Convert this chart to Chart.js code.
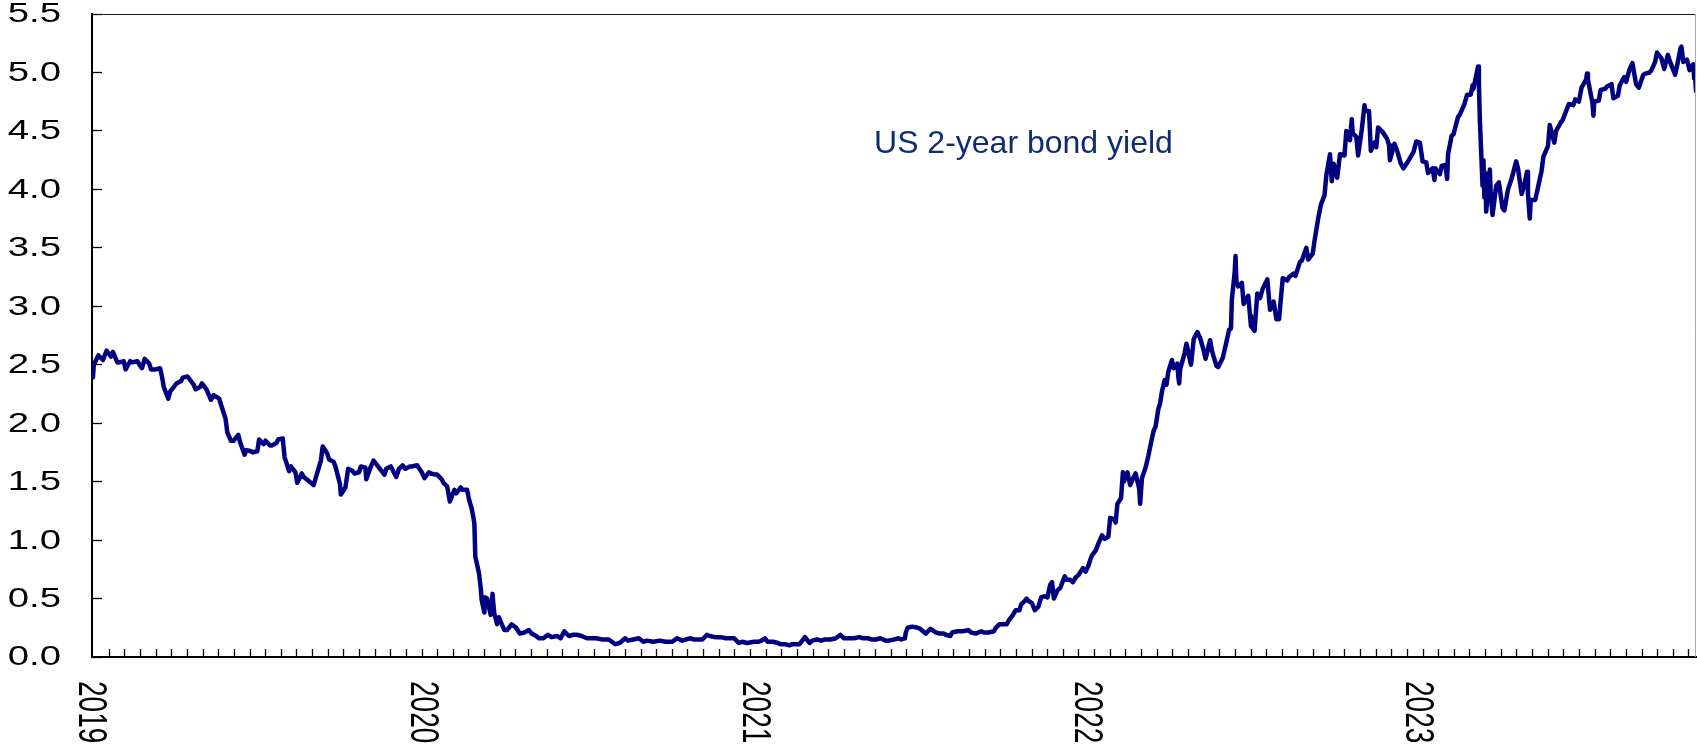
<!DOCTYPE html>
<html>
<head>
<meta charset="utf-8">
<script src="https://cdn.jsdelivr.net/npm/chart.js@4.4.1/dist/chart.umd.min.js"></script>
<style>
html,body{margin:0;padding:0;background:#fff;}
canvas{display:block;}
</style>
</head>
<body>
<canvas id="c" width="1697" height="747"></canvas>
<script>
// ---------------- DATA ----------------
const seriesLabel = 'US 2-year bond yield';
const yearLabels = ['2019', '2020', '2021', '2022', '2023'];
const yTickMin = 0, yTickMax = 5.5, yTickStep = 0.5;

const dates2019 = ['01-02','01-03','01-04','01-09','01-14','01-18','01-23','01-25','01-30','02-01','02-06','02-08','02-13','02-15','02-21','02-26','03-01','03-06','03-08','03-13','03-18','03-20','03-22','03-27','03-29','04-03','04-05','04-10','04-12','04-17','04-24','04-26','05-01','05-03','05-08','05-13','05-16','05-22','05-24','05-29','05-31','06-04','06-07','06-12','06-14','06-19','06-21','06-26','06-28','07-03','07-05','07-10','07-12','07-17','07-19','07-24','07-26','07-31','08-02','08-07','08-09','08-14','08-16','08-21','08-23','08-28','09-03','09-06','09-11','09-13','09-18','09-20','09-25','09-27','10-02','10-03','10-08','10-11','10-16','10-18','10-23','10-25','10-30','10-31','11-05','11-08','11-13','11-15','11-20','11-22','11-27','12-03','12-06','12-10','12-13','12-18','12-20','12-26','12-31'];
const yields2019 = [2.49,2.39,2.50,2.58,2.54,2.62,2.57,2.61,2.52,2.52,2.53,2.46,2.53,2.52,2.53,2.47,2.55,2.51,2.46,2.46,2.47,2.40,2.31,2.21,2.27,2.32,2.34,2.36,2.39,2.40,2.33,2.29,2.31,2.34,2.29,2.20,2.24,2.21,2.16,2.04,1.92,1.85,1.85,1.90,1.84,1.73,1.77,1.76,1.75,1.76,1.86,1.82,1.85,1.81,1.81,1.83,1.86,1.87,1.71,1.59,1.63,1.58,1.49,1.57,1.54,1.51,1.47,1.55,1.68,1.80,1.74,1.69,1.67,1.63,1.48,1.39,1.45,1.61,1.59,1.57,1.58,1.63,1.62,1.52,1.63,1.68,1.63,1.61,1.56,1.61,1.63,1.54,1.61,1.64,1.61,1.63,1.63,1.64,1.58];

const dates2020 = ['01-03','01-08','01-10','01-15','01-17','01-22','01-24','01-28','01-31','02-05','02-07','02-12','02-14','02-19','02-21','02-24','02-26','02-27','02-28','03-03','03-05','03-06','03-09','03-10','03-12','03-16','03-18','03-19','03-20','03-23','03-25','03-27','03-31','04-03','04-08','04-13','04-17','04-22','04-27','04-30','05-05','05-08','05-13','05-18','05-22','05-28','06-01','06-05','06-10','06-15','06-19','06-24','06-30','07-06','07-10','07-17','07-24','07-31','08-05','08-11','08-14','08-20','08-26','08-31','09-04','09-11','09-18','09-25','10-02','10-07','10-13','10-21','10-26','10-30','11-04','11-09','11-12','11-18','11-24','11-30','12-04','12-09','12-14','12-18','12-23','12-31'];
const yields2020 = [1.53,1.58,1.57,1.56,1.56,1.52,1.49,1.46,1.33,1.43,1.40,1.45,1.43,1.43,1.35,1.27,1.19,1.14,0.86,0.72,0.59,0.49,0.38,0.51,0.50,0.36,0.54,0.44,0.37,0.28,0.34,0.30,0.23,0.23,0.28,0.25,0.20,0.21,0.23,0.20,0.18,0.16,0.16,0.19,0.17,0.18,0.16,0.22,0.18,0.19,0.19,0.18,0.16,0.16,0.16,0.15,0.15,0.11,0.12,0.16,0.14,0.15,0.16,0.13,0.14,0.13,0.14,0.13,0.13,0.16,0.14,0.16,0.15,0.15,0.15,0.19,0.18,0.17,0.17,0.16,0.16,0.16,0.12,0.13,0.12,0.13];

const dates2021 = ['01-05','01-08','01-12','01-15','01-21','01-26','01-29','02-03','02-08','02-11','02-16','02-19','02-25','03-02','03-05','03-10','03-15','03-19','03-25','03-31','04-05','04-09','04-14','04-20','04-26','04-30','05-05','05-10','05-14','05-19','05-25','05-28','06-03','06-08','06-11','06-15','06-16','06-18','06-23','06-29','07-02','07-08','07-13','07-19','07-23','07-28','07-30','08-04','08-06','08-12','08-18','08-24','08-27','09-01','09-07','09-10','09-15','09-21','09-23','09-27','09-30','10-05','10-08','10-12','10-15','10-19','10-21','10-25','10-27','10-29','11-02','11-05','11-09','11-12','11-16','11-19','11-22','11-24','11-26','11-30','12-03','12-08','12-10','12-14','12-17','12-20','12-23','12-28','12-31'];
const yields2021 = [0.13,0.14,0.16,0.13,0.13,0.12,0.11,0.11,0.10,0.11,0.11,0.11,0.17,0.12,0.14,0.15,0.14,0.15,0.15,0.16,0.19,0.16,0.16,0.16,0.17,0.16,0.16,0.15,0.15,0.16,0.14,0.14,0.15,0.16,0.15,0.16,0.21,0.25,0.26,0.25,0.24,0.20,0.24,0.21,0.20,0.20,0.19,0.18,0.21,0.22,0.22,0.23,0.21,0.20,0.22,0.21,0.21,0.22,0.25,0.28,0.28,0.28,0.32,0.36,0.40,0.40,0.45,0.48,0.50,0.48,0.46,0.40,0.43,0.51,0.52,0.51,0.62,0.64,0.50,0.57,0.59,0.69,0.66,0.66,0.64,0.68,0.70,0.76,0.73];

const dates2022 = ['01-03','01-05','01-07','01-11','01-14','01-18','01-21','01-25','01-27','01-31','02-02','02-04','02-08','02-10','02-11','02-15','02-18','02-22','02-24','02-28','03-01','03-03','03-07','03-10','03-14','03-16','03-18','03-21','03-23','03-25','03-28','03-30','04-01','04-05','04-07','04-11','04-12','04-13','04-14','04-19','04-21','04-26','04-29','05-03','05-06','05-10','05-12','05-17','05-19','05-24','05-26','05-31','06-03','06-07','06-09','06-10','06-13','06-14','06-15','06-17','06-21','06-23','06-28','06-30','07-01','07-05','07-08','07-11','07-14','07-19','07-22','07-26','07-29','08-01','08-03','08-05','08-10','08-12','08-17','08-19','08-24','08-26','08-31','09-02','09-07','09-09','09-13','09-16','09-20','09-22','09-26','09-28','09-30','10-04','10-07','10-12','10-14','10-18','10-20','10-21','10-25','10-27','10-31','11-03','11-04','11-08','11-10','11-14','11-16','11-18','11-23','11-28','11-30','12-01','12-06','12-09','12-13','12-16','12-21','12-27','12-30'];
const yields2022 = [0.78,0.83,0.87,0.91,0.97,1.04,1.01,1.03,1.19,1.18,1.15,1.31,1.36,1.58,1.50,1.58,1.47,1.54,1.57,1.44,1.31,1.53,1.62,1.72,1.87,1.94,1.97,2.12,2.17,2.27,2.37,2.33,2.44,2.54,2.47,2.51,2.40,2.34,2.46,2.60,2.68,2.50,2.72,2.78,2.73,2.62,2.55,2.71,2.62,2.49,2.48,2.56,2.66,2.80,2.81,3.06,3.28,3.43,3.21,3.17,3.20,3.02,3.09,2.92,2.83,2.79,3.11,3.07,3.15,3.23,2.97,3.04,2.89,2.89,3.07,3.24,3.22,3.25,3.28,3.26,3.38,3.39,3.50,3.40,3.45,3.56,3.75,3.87,3.95,4.12,4.30,4.07,4.22,4.10,4.30,4.29,4.50,4.42,4.60,4.48,4.45,4.29,4.51,4.72,4.67,4.67,4.33,4.40,4.36,4.53,4.49,4.43,4.38,4.25,4.39,4.33,4.22,4.18,4.24,4.32,4.41];

const dates2023 = ['01-03','01-06','01-10','01-12','01-17','01-19','01-20','01-25','01-27','01-31','02-02','02-03','02-07','02-09','02-14','02-16','02-21','02-24','02-28','03-02','03-03','03-07','03-08','03-09','03-10','03-13','03-14','03-15','03-16','03-17','03-21','03-22','03-24','03-28','03-31','04-04','04-06','04-10','04-14','04-19','04-21','04-25','04-28','05-01','05-02','05-04','05-05','05-10','05-12','05-17','05-19','05-24','05-26','05-31','06-02','06-07','06-09','06-14','06-16','06-21','06-23','06-27','06-30','07-05','07-06','07-07','07-12','07-13','07-14','07-19','07-21','07-26','07-28','08-02','08-04','08-09','08-11','08-16','08-18','08-22','08-25','08-29','09-01','09-06','09-08','09-13','09-15','09-19','09-21','09-26','09-29','10-03','10-06','10-11','10-13','10-17','10-18','10-20','10-24','10-27','10-31','11-01','11-02','11-03'];
const yields2023 = [4.40,4.24,4.23,4.14,4.18,4.08,4.18,4.13,4.20,4.21,4.09,4.30,4.46,4.47,4.62,4.64,4.73,4.81,4.81,4.89,4.86,5.01,5.05,4.90,4.60,4.03,4.25,3.93,4.14,3.81,4.17,3.96,3.78,4.03,4.06,3.84,3.82,4.00,4.09,4.24,4.18,3.96,4.04,4.15,3.96,3.75,3.91,3.91,3.98,4.16,4.28,4.37,4.55,4.40,4.50,4.57,4.59,4.69,4.73,4.72,4.77,4.75,4.87,4.94,4.99,4.94,4.74,4.63,4.75,4.76,4.85,4.86,4.88,4.90,4.78,4.80,4.89,4.96,4.92,5.03,5.08,4.90,4.87,4.98,4.99,5.00,5.02,5.09,5.17,5.12,5.03,5.15,5.08,4.98,5.05,5.21,5.22,5.09,5.11,5.02,5.07,4.95,4.97,4.84];

// annotation anchor (in data units)
const annotationDate = '2021-05-12';
const annotationValue = 4.31;
// minor tick marks on the date axis, in days since 2019-01-01
const minorTickStartDay = 20;
const minorTickEveryDays = 17.22;

// ---------------- BUILD ----------------
const DAY = 86400000;
const ORIGIN = Date.UTC(2019, 0, 1);
function dayOf(s) {
  const [y, m, d] = s.split('-').map(Number);
  return (Date.UTC(y, m - 1, d) - ORIGIN) / DAY;
}
const yearBlocks = [
  ['2019', dates2019, yields2019],
  ['2020', dates2020, yields2020],
  ['2021', dates2021, yields2021],
  ['2022', dates2022, yields2022],
  ['2023', dates2023, yields2023]
];
const points = [];
yearBlocks.forEach(([yr, ds, vs]) => {
  ds.forEach((md, i) => points.push({ x: dayOf(yr + '-' + md), y: vs[i] }));
});

const FONT = "'Liberation Sans', Arial, Helvetica, sans-serif";
const STRETCH = 1.42;

const decor = {
  id: 'decor',
  afterDraw(chart) {
    const { ctx, chartArea, scales } = chart;
    const xs = scales.x, ys = scales.y;
    ctx.save();
    // frame: top and right edges
    ctx.lineWidth = 1;
    ctx.strokeStyle = '#1a1a1a';
    ctx.beginPath();
    ctx.moveTo(chartArea.left, Math.round(chartArea.top) + 0.5);
    ctx.lineTo(chartArea.right, Math.round(chartArea.top) + 0.5);
    ctx.stroke();
    ctx.strokeStyle = '#a8a8a8';
    ctx.beginPath();
    ctx.moveTo(Math.round(chartArea.right) - 0.5, chartArea.top);
    ctx.lineTo(Math.round(chartArea.right) - 0.5, chartArea.bottom);
    ctx.stroke();

    // y tick labels
    ctx.fillStyle = '#000';
    ctx.font = '27px ' + FONT;
    ctx.textAlign = 'right';
    ctx.textBaseline = 'middle';
    ys.ticks.forEach(t => {
      const py = ys.getPixelForValue(t.value);
      ctx.save();
      ctx.translate(chartArea.left - 31, py + 1);
      ctx.scale(STRETCH, 1);
      ctx.fillText(t.value.toFixed(1), 0, 0);
      ctx.restore();
    });

    // x year labels (rotated clockwise)
    ctx.font = '28px ' + FONT;
    ctx.textAlign = 'left';
    ctx.textBaseline = 'middle';
    yearLabels.forEach(lbl => {
      const px = xs.getPixelForValue(dayOf(lbl + '-01-01'));
      ctx.save();
      ctx.translate(px - 1, chartArea.bottom + 24);
      ctx.scale(STRETCH, 1);
      ctx.rotate(Math.PI / 2);
      ctx.fillText(lbl, 0, 0);
      ctx.restore();
    });

    // series annotation
    ctx.font = '32px ' + FONT;
    ctx.fillStyle = '#0c2c74';
    ctx.textAlign = 'left';
    ctx.textBaseline = 'alphabetic';
    ctx.fillText(seriesLabel, xs.getPixelForValue(dayOf(annotationDate)), ys.getPixelForValue(annotationValue));
    ctx.restore();
  }
};

new Chart(document.getElementById('c'), {
  type: 'line',
  data: {
    datasets: [{
      label: seriesLabel,
      data: points,
      borderColor: '#000080',
      borderWidth: 4.5,
      pointRadius: 0,
      pointHoverRadius: 0,
      tension: 0,
      fill: false,
      borderJoinStyle: 'round',
      borderCapStyle: 'round'
    }]
  },
  options: {
    responsive: false,
    animation: false,
    devicePixelRatio: 1,
    events: [],
    layout: { padding: { left: 92, top: 14, right: 1, bottom: 90 } },
    plugins: {
      legend: { display: false },
      tooltip: { enabled: false },
      title: { display: false }
    },
    scales: {
      x: {
        type: 'linear',
        min: points[0].x,
        max: points[points.length - 1].x,
        afterFit: s => { s.height = 0; },
        afterBuildTicks: s => {
          const t = [];
          for (let v = minorTickStartDay; v <= s.max; v += minorTickEveryDays) t.push({ value: v });
          s.ticks = t;
        },
        ticks: { display: false },
        grid: { display: true, drawOnChartArea: false, drawTicks: true, tickLength: -8, tickWidth: 1.3, tickColor: '#000' },
        border: { display: true, color: '#000', width: 2 }
      },
      y: {
        min: yTickMin,
        max: yTickMax,
        afterFit: s => { s.width = 0; },
        ticks: { display: false, stepSize: yTickStep },
        grid: { display: true, drawOnChartArea: false, drawTicks: true, tickLength: -10, tickWidth: 1.3, tickColor: '#000' },
        border: { display: true, color: '#000', width: 2 }
      }
    }
  },
  plugins: [decor]
});
</script>
</body>
</html>
